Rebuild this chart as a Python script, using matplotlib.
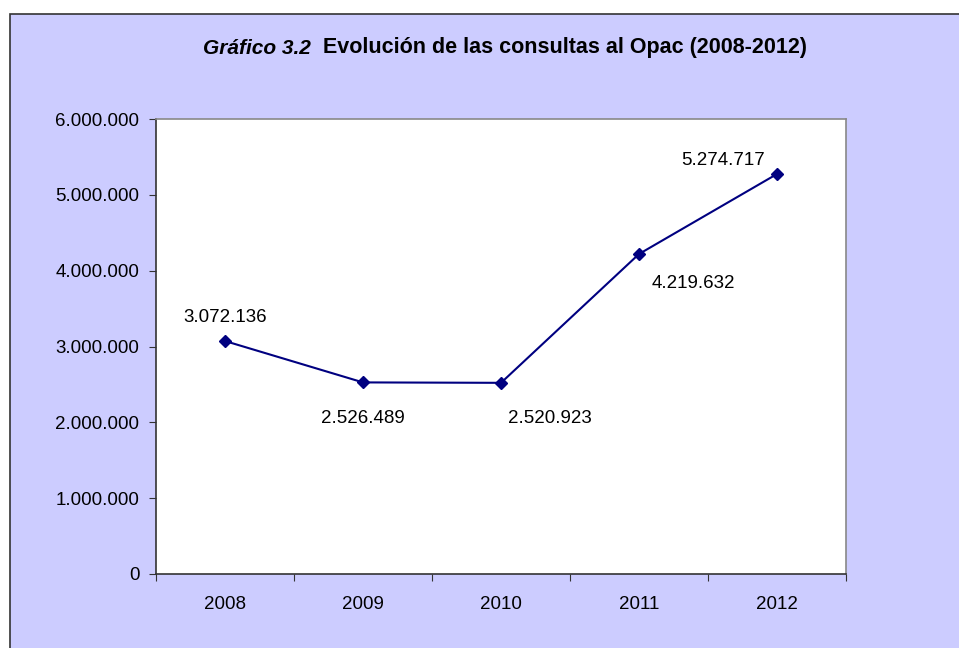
import matplotlib.pyplot as plt
from matplotlib.patches import Rectangle
from matplotlib.ticker import FuncFormatter

plt.rcParams['font.family'] = ['Liberation Sans', 'DejaVu Sans']

years = ['2008', '2009', '2010', '2011', '2012']
consultas = [3072136, 2526489, 2520923, 4219632, 5274717]
# label offsets in points (dx, dy)
offsets = [(0, 17), (0, -26), (35, -26), (39, -21), (-39, 10)]


def miles(v, pos=None):
    return f'{int(v):,}'.replace(',', '.')


fig = plt.figure(figsize=(9.59, 6.48), dpi=100)
fig.patch.set_facecolor('white')

# chart area with border, drawn on a background axes
bg = fig.add_axes([0, 0, 1, 1], zorder=-1)
bg.set_axis_off()
bg.set_xlim(0, 959)
bg.set_ylim(648, 0)
bg.add_patch(Rectangle((10, 14), 960, 640, facecolor='#CCCCFF',
                       edgecolor='#333333', linewidth=1.2))

ax = fig.add_axes([156 / 959, 1 - 574 / 648, 690 / 959, 455 / 648])
ax.set_facecolor('white')

x = list(range(len(years)))
ax.plot(x, consultas, color='#000080', marker='D', markersize=6, linewidth=1.5)

for i, v in enumerate(consultas):
    ax.annotate(miles(v), (i, v), xytext=offsets[i], textcoords='offset points',
                ha='center', va='center', fontsize=13.5)

ax.set_xlim(-0.5, 4.5)
ax.set_ylim(0, 6000000)
ax.set_yticks(range(0, 6000001, 1000000))
ax.yaxis.set_major_formatter(FuncFormatter(miles))
ax.set_xticks([i - 0.5 for i in range(len(years) + 1)])
ax.set_xticklabels([])
ax.set_xticks(x, minor=True)
ax.set_xticklabels(years, minor=True)
ax.tick_params(axis='x', which='minor', length=0, pad=16, labelsize=13.5)
ax.tick_params(axis='x', which='major', length=5, direction='out', color='#333333')
ax.tick_params(axis='y', length=5, pad=7, direction='out', labelsize=13.5, color='#333333')

for side in ['left', 'bottom']:
    ax.spines[side].set_color('#333333')
    ax.spines[side].set_linewidth(1.2)
for side in ['top', 'right']:
    ax.spines[side].set_color('#888888')
    ax.spines[side].set_linewidth(1.2)

fig.text(203 / 959, 1 - 48 / 648, 'Gráfico 3.2', fontsize=15, fontweight='bold',
         fontstyle='italic', ha='left', va='center')
fig.text(323 / 959, 1 - 48 / 648, 'Evolución de las consultas al Opac (2008-2012)',
         fontsize=15.5, fontweight='bold', ha='left', va='center')

fig.savefig('out.png', dpi=100)
